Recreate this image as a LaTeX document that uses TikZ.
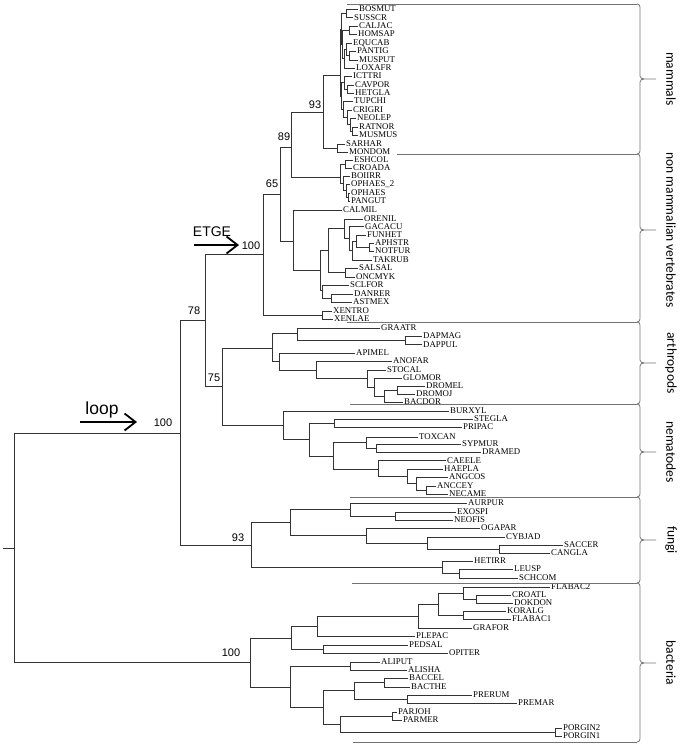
\documentclass[tikz,border=0pt]{standalone}
\usepackage{fontspec}
\usepackage{tikz}
\usetikzlibrary{arrows.meta, positioning, calc}
\setmainfont{Liberation Serif}
\newfontfamily\bootfont{Liberation Sans}
\newfontfamily\grpfont{Carlito}

\begin{document}
\begin{tikzpicture}[
        x=1pt, y=-1pt,
        br/.style={draw=black!80, line width=0.8pt},
        sep/.style={draw=black!55, line width=0.8pt},
        leaf/.style={anchor=west, inner xsep=1pt, inner ysep=0.3pt, font={\fontsize{8.8}{8.8}\selectfont}},
        boot/.style={inner sep=0pt, font={\bootfont\fontsize{11}{11}\selectfont}},
        grp/.style={rotate=-90, inner sep=0pt, font={\grpfont\fontsize{13.5}{13.5}\selectfont}},
        hint/.style={line width=1.8pt, -{Straight Barb[length=11pt,width=17pt]}}
    ]
        \useasboundingbox (0,0) rectangle (685,747);

        % Internal nodes
        \foreach \n/\x/\y in {root/14/548, loopN/180/433, n78/205/320, vert/263/254, n75/222/386,
            n65/280/194, xen/322/315, n89/291/147, n93/323/112, plac/340/75, mars/337/148,
            m1/341/29, bs/346/13.5, pr/342.5/44, ch/349/30, el/344/58.5, ep/346/49, pm/349/55.5,
            gl/341.5/96, ic/344/82.5, cg/347/89, tc/343/109, cn/347/117, nr/350/124.5, rm/352/131,
            snk/340/177, es/345/164, op/343/183, op2/346/190.5, op3/348/197,
            cal/293/241, tel/320/270, t1/328/250, a1/344/228.5, a2/349/238, a3/352/250, a4/356/241,
            ap/369/247, sal/345/272, t2/322/290, dr/331/298,
            ar/272/348, gd/297/333, dap/405/340.5, ins/279/361.5, in2/316/370, in3/367/378.5,
            in4/374/387, in5/384/396, dro/397/390,
            nem/283/425, n2/309/439.5, sp/334/423, n3/333/456, tx/366/442.5, sd/376/448,
            cc/378/469, hh/407/476, h2/416/483.5, anc/426/490,
            fun/251/545, f1/290/522, f2/350/509, eo/395/516, f3/366/535, f5/427/543, sc/499/549,
            f4/442/567, ls/459/573.5,
            bac/250/662, b1/291/638, po/323/649, b2/317/626, b3/418/616, b4/438/604, b5/463/593,
            cd/476/599, kf/463/615, b6/290/687, al/350/666, b7/323/707, b8/354/690.5,
            bb/384/682.5, pp/407/699, b9/340/724, pj/392/716, pg/555/732}
            \coordinate (\n) at (\x,\y);
        \coordinate (rs) at (3,548);

        % Leaves
        \foreach \n/\x/\y in {BOSMUT/358/9, SUSSCR/353/17.5, CALJAC/358/26, HOMSAP/357/34,
            EQUCAB/352/43, PANTIG/356/51, MUSPUT/358/60, LOXAFR/355/68, ICTTRI/352/76,
            CAVPOR/354/85, HETGLA/354/93, TUPCHI/353/101, CRIGRI/352/110, NEOLEP/356/118,
            RATNOR/358/127, MUSMUS/358/135, SARHAR/345/144, MONDOM/348/152,
            ESHCOL/353/160, CROADA/352/168, BOIIRR/350/176, OPHAES/350/193, PANGUT/350/201,
            CALMIL/342/210, ORENIL/363/219, GACACU/364/226.5, FUNHET/366/235, APHSTR/374/243,
            NOTFUR/374/251, TAKRUB/372/260, SALSAL/358/268, ONCMYK/355/277, SCLFOR/349/285,
            DANRER/353/294, ASTMEX/352/302, XENTRO/332/311, XENLAE/333/319,
            GRAATR/380/328, DAPMAG/422/336, DAPPUL/422/344.5, APIMEL/355/353, ANOFAR/392/361,
            STOCAL/386/370, GLOMOR/402/378, DROMEL/425/386, DROMOJ/415/394, BACDOR/403/402,
            BURXYL/449/411, STEGLA/473/419, PRIPAC/462/427, TOXCAN/418/437, SYPMUR/461/444,
            DRAMED/481/452, CAEELE/446/460.5, HAEPLA/443/469, ANGCOS/448/477, ANCCEY/436/486,
            NECAME/448/494,
            AURPUR/467/503, EXOSPI/456/512, NEOFIS/453/520, OGAPAR/480/528, CYBJAD/505/537,
            SACCER/563/545, CANGLA/550/553, HETIRR/473/561, LEUSP/513/569, SCHCOM/518/578,
            FLABAC2/550/587, CROATL/511/595, DOKDON/513/603, KORALG/506/611, FLABAC1/511/619,
            GRAFOR/472/628, PLEPAC/415/636, PEDSAL/408/645, OPITER/448/653, ALIPUT/380/662,
            ALISHA/407/670, BACCEL/408/678, BACTHE/410/687, PRERUM/472/695, PREMAR/517/703,
            PARJOH/397/712, PARMER/402/720, PORGIN2/562/728, PORGIN1/562/736}
            \node[leaf] (\n) at (\x,\y) {\n};
        \node[leaf] (OPHAES2) at (350,184) {OPHAES\_2};

        % Branches
        \draw[br] (rs) -- (root);
        \foreach \p/\c in {root/loopN, root/bac, loopN/n78, loopN/fun, n78/vert, n78/n75,
            vert/n65, vert/xen, n65/n89, n65/cal, n89/n93, n89/snk, n93/plac, n93/mars,
            plac/m1, plac/gl, m1/bs, m1/pr, bs/BOSMUT, bs/SUSSCR, pr/ch, pr/el,
            ch/CALJAC, ch/HOMSAP, el/ep, el/LOXAFR, ep/EQUCAB, ep/pm, pm/PANTIG, pm/MUSPUT,
            gl/ic, gl/tc, ic/ICTTRI, ic/cg, cg/CAVPOR, cg/HETGLA, tc/TUPCHI, tc/cn,
            cn/CRIGRI, cn/nr, nr/NEOLEP, nr/rm, rm/RATNOR, rm/MUSMUS, mars/SARHAR, mars/MONDOM,
            snk/es, snk/op, es/ESHCOL, es/CROADA, op/BOIIRR, op/op2, op2/OPHAES2, op2/op3,
            op3/OPHAES, op3/PANGUT,
            cal/CALMIL, cal/tel, tel/t1, tel/t2, t1/a1, t1/sal, a1/ORENIL, a1/a2,
            a2/GACACU, a2/a3, a3/a4, a3/TAKRUB, a4/FUNHET, a4/ap, ap/APHSTR, ap/NOTFUR,
            sal/SALSAL, sal/ONCMYK, t2/SCLFOR, t2/dr, dr/DANRER, dr/ASTMEX, xen/XENTRO, xen/XENLAE,
            n75/ar, n75/nem, ar/gd, ar/ins, gd/GRAATR, gd/dap, dap/DAPMAG, dap/DAPPUL,
            ins/APIMEL, ins/in2, in2/ANOFAR, in2/in3, in3/STOCAL, in3/in4, in4/GLOMOR, in4/in5,
            in5/dro, in5/BACDOR, dro/DROMEL, dro/DROMOJ,
            nem/BURXYL, nem/n2, n2/sp, n2/n3, sp/STEGLA, sp/PRIPAC, n3/tx, n3/cc,
            tx/TOXCAN, tx/sd, sd/SYPMUR, sd/DRAMED, cc/CAEELE, cc/hh, hh/HAEPLA, hh/h2,
            h2/ANGCOS, h2/anc, anc/ANCCEY, anc/NECAME,
            fun/f1, fun/f4, f1/f2, f1/f3, f2/AURPUR, f2/eo, eo/EXOSPI, eo/NEOFIS,
            f3/OGAPAR, f3/f5, f5/CYBJAD, f5/sc, sc/SACCER, sc/CANGLA, f4/HETIRR, f4/ls,
            ls/LEUSP, ls/SCHCOM,
            bac/b1, bac/b6, b1/b2, b1/po, po/PEDSAL, po/OPITER, b2/b3, b2/PLEPAC,
            b3/b4, b3/GRAFOR, b4/b5, b4/kf, b5/FLABAC2, b5/cd, cd/CROATL, cd/DOKDON,
            kf/KORALG, kf/FLABAC1, b6/al, b6/b7, al/ALIPUT, al/ALISHA, b7/b8, b7/b9,
            b8/bb, b8/pp, bb/BACCEL, bb/BACTHE, pp/PRERUM, pp/PREMAR, b9/pj, b9/pg,
            pj/PARJOH, pj/PARMER, pg/PORGIN2, pg/PORGIN1}
            \draw[br] (\p) |- (\c);

        % Bootstrap values
        \node[boot] (bLoop) at (163,423) {100};
        \node[boot] (b78) at (194,311) {78};
        \node[boot] (b75) at (214,378) {75};
        \node[boot] (bVert) at (251,246) {100};
        \node[boot] (b65) at (272,184) {65};
        \node[boot] (b89) at (284,137) {89};
        \node[boot] (b93m) at (315,105) {93};
        \node[boot] (b93f) at (238,538) {93};
        \node[boot] (bBac) at (231,653) {100};

        % Marked branches
        \coordinate (loopA) at (80,422);
        \coordinate (loopB) at (137,422);
        \draw[hint] (loopA) -- (loopB);
        \node[inner sep=0pt, anchor=base, font={\bootfont\fontsize{17.5}{17.5}\selectfont}] (loopT) at (102,414) {loop};
        \coordinate (etgeA) at (194,245);
        \coordinate (etgeB) at (239,245);
        \draw[hint] (etgeA) -- (etgeB);
        \node[inner sep=0pt, anchor=base, font={\bootfont\fontsize{14}{14}\selectfont}] (etgeT) at (212,236) {ETGE};

        % Group separators and braces
        \foreach \y/\xs in {4/347, 154/397, 322/347, 404/350, 497/350, 583/352, 742/353}
            \draw[sep] (\xs,\y) -- (637,\y);
        \foreach \yt/\ym/\yb in {4/79/154, 154/230/322, 322/363/404, 404/452/497, 497/540/583, 583/663/742} {
            \draw[sep] (637,\yt) to[out=0,in=90] (640,\yt+3) -- (640,\ym-3) to[out=-90,in=180] (644,\ym) -- (656,\ym);
            \draw[sep] (644,\ym) to[out=180,in=90] (640,\ym+3) -- (640,\yb-3) to[out=-90,in=0] (637,\yb);
        }
        \node[grp] (gMam) at (671,79) {mammals};
        \node[grp] (gVert) at (671,230) {non mammalian vertebrates};
        \node[grp] (gArth) at (671,363) {arthropods};
        \node[grp] (gNem) at (671,452) {nematodes};
        \node[grp] (gFun) at (671,540) {fungi};
        \node[grp] (gBac) at (671,663) {bacteria};

\end{tikzpicture}
\end{document}
